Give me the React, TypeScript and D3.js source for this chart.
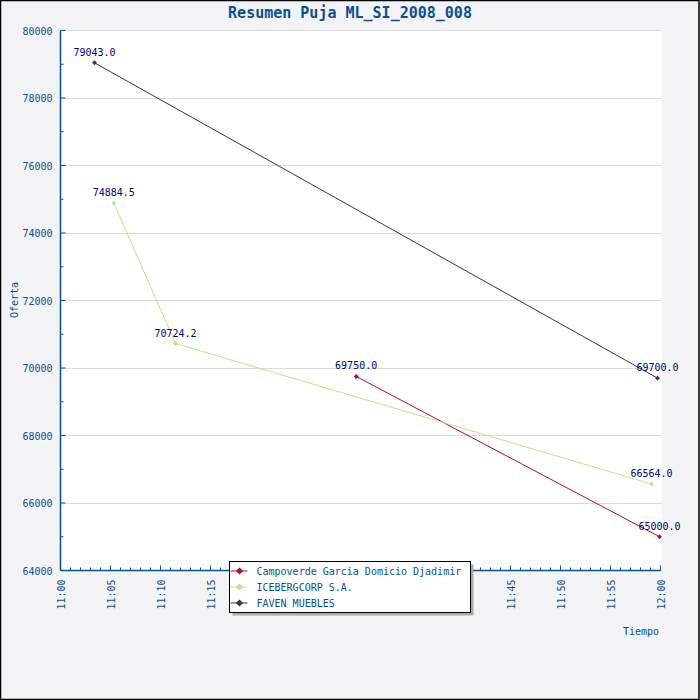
import { useEffect, useRef } from 'react';
import * as d3 from 'd3';

const seriesNames = ['Campoverde Garcia Domicio Djadimir', 'ICEBERGCORP S.A.', 'FAVEN MUEBLES'];
const seriesColors = ['#a80c3e', '#c4e08c', '#2e3848'];

const campoverdeTimes = ['11:29:34', '11:59:54'];
const campoverdeValues = [69750.0, 65000.0];
const icebergTimes = ['11:05:20', '11:11:30', '11:59:06'];
const icebergValues = [74884.5, 70724.2, 66564.0];
const favenTimes = ['11:03:24', '11:59:42'];
const favenValues = [79043.0, 69700.0];

const xTickLabels = ['11:00', '11:05', '11:10', '11:15', '11:20', '11:25', '11:30', '11:35', '11:40', '11:45', '11:50', '11:55', '12:00'];
const yTicks = [64000, 66000, 68000, 70000, 72000, 74000, 76000, 78000, 80000];

const AXIS = '#0a4f94';
const FONT = '"DejaVu Sans Mono", monospace';

const parseTime = d3.timeParse('%H:%M:%S');

export default function App() {
  const svgRef = useRef<SVGSVGElement>(null);

  useEffect(() => {
    if (!svgRef.current) return;
    const width = 700;
    const height = 700;
    const margin = { top: 30.5, left: 60.5 };
    const innerW = 600;
    const innerH = 540;

    const svg = d3.select(svgRef.current);
    svg.selectAll('*').remove();

    svg.append('rect').attr('width', width).attr('height', height).attr('fill', '#f3f3f5');
    svg.append('rect').attr('x', 0.5).attr('y', 0.5).attr('width', width - 1.5).attr('height', height - 1)
      .attr('fill', 'none').attr('stroke', '#000').attr('stroke-width', 1.5);

    const x = d3.scaleTime()
      .domain([parseTime('11:00:00') as Date, parseTime('12:00:00') as Date])
      .range([0, innerW]);
    const y = d3.scaleLinear().domain([64000, 80000]).range([innerH, 0]);

    const g = svg.append('g').attr('transform', `translate(${margin.left},${margin.top})`);

    g.append('rect').attr('x', 0).attr('y', 0).attr('width', innerW + 1).attr('height', innerH).attr('fill', '#fff');

    // grid
    g.selectAll('.grid').data(yTicks).enter().append('line')
      .attr('x1', 0).attr('x2', innerW + 1)
      .attr('y1', (d) => Math.round(y(d))).attr('y2', (d) => Math.round(y(d)))
      .attr('stroke', '#dcdcdc').attr('stroke-width', 1);

    // title
    svg.append('text').attr('x', 350).attr('y', 18).attr('text-anchor', 'middle')
      .style('font-family', FONT).style('font-size', '15px').style('font-weight', 'bold')
      .attr('fill', AXIS).text('Resumen Puja ML_SI_2008_008');

    // series
    const series = [
      { times: campoverdeTimes, values: campoverdeValues },
      { times: icebergTimes, values: icebergValues },
      { times: favenTimes, values: favenValues },
    ];
    const marker = d3.symbol().type(d3.symbolSquare).size(12);
    const line = d3.line<[Date, number]>().x((d) => x(d[0])).y((d) => y(d[1]));

    series.forEach((s, i) => {
      const pts: [Date, number][] = s.times.map((t, j) => [parseTime(t) as Date, s.values[j]]);
      g.append('path').datum(pts).attr('d', line).attr('fill', 'none')
        .attr('stroke', seriesColors[i]).attr('stroke-width', 1);
      g.selectAll(`.m${i}`).data(pts).enter().append('path')
        .attr('d', marker)
        .attr('transform', (d) => `translate(${x(d[0])},${y(d[1])}) rotate(45)`)
        .attr('fill', seriesColors[i]);
      g.selectAll(`.l${i}`).data(pts).enter().append('text')
        .attr('x', (d) => x(d[0])).attr('y', (d) => y(d[1]) - 7)
        .attr('text-anchor', 'middle')
        .style('font-family', FONT).style('font-size', '10px')
        .attr('fill', '#000080').text((d) => d[1].toFixed(1));
    });

    // y axis
    const yAxisG = g.append('g');
    yAxisG.append('line').attr('x1', 0).attr('x2', 0).attr('y1', 0).attr('y2', innerH)
      .attr('stroke', AXIS).attr('stroke-width', 1.5);
    const yMinor = d3.range(64000, 80001, 1000);
    yAxisG.selectAll('.ytick').data(yMinor).enter().append('line')
      .attr('x1', 0).attr('x2', (d) => (d % 2000 === 0 ? 5 : 3))
      .attr('y1', (d) => y(d)).attr('y2', (d) => y(d))
      .attr('stroke', AXIS).attr('stroke-width', 1);
    yAxisG.selectAll('.ylab').data(yTicks).enter().append('text')
      .attr('x', -8).attr('y', (d) => y(d) + 4).attr('text-anchor', 'end')
      .style('font-family', FONT).style('font-size', '10px').attr('fill', AXIS)
      .text((d) => String(d));

    // x axis
    const xAxisG = g.append('g').attr('transform', `translate(0,${innerH})`);
    xAxisG.append('line').attr('x1', 0).attr('x2', innerW).attr('y1', 0).attr('y2', 0)
      .attr('stroke', AXIS).attr('stroke-width', 1.5);
    const minuteTicks = x.ticks(d3.timeMinute.every(1) as d3.TimeInterval);
    xAxisG.selectAll('.xtick').data(minuteTicks).enter().append('line')
      .attr('x1', (d) => x(d)).attr('x2', (d) => x(d))
      .attr('y1', 0).attr('y2', (d) => (d.getMinutes() % 5 === 0 ? -5 : -3))
      .attr('stroke', AXIS).attr('stroke-width', 1);
    const majorTicks = x.ticks(d3.timeMinute.every(5) as d3.TimeInterval);
    xAxisG.selectAll('.xlab').data(majorTicks).enter().append('text')
      .attr('transform', (d) => `translate(${x(d) + 4},9) rotate(-90)`)
      .attr('text-anchor', 'end')
      .style('font-family', FONT).style('font-size', '10px').attr('fill', AXIS)
      .text((_d, i) => xTickLabels[i]);

    // axis titles
    svg.append('text').attr('transform', 'translate(18,300) rotate(-90)').attr('text-anchor', 'middle')
      .style('font-family', FONT).style('font-size', '10px').attr('fill', AXIS).text('Oferta');
    svg.append('text').attr('x', 659).attr('y', 635).attr('text-anchor', 'end')
      .style('font-family', FONT).style('font-size', '10px').attr('fill', AXIS).text('Tiempo');

    // legend
    const lg = svg.append('g').attr('transform', 'translate(229.5,561.5)');
    lg.append('rect').attr('x', 3).attr('y', 3).attr('width', 241).attr('height', 51).attr('fill', '#aaaaaa');
    lg.append('rect').attr('x', 0).attr('y', 0).attr('width', 241).attr('height', 51)
      .attr('fill', '#fff').attr('stroke', '#000').attr('stroke-width', 1);
    seriesNames.forEach((name, i) => {
      const yy = 9.5 + i * 16;
      lg.append('line').attr('x1', 1).attr('x2', 18).attr('y1', yy).attr('y2', yy)
        .attr('stroke', seriesColors[i]).attr('stroke-width', 1);
      lg.append('path').attr('d', d3.symbol().type(d3.symbolSquare).size(26))
        .attr('transform', `translate(10,${yy}) rotate(45)`).attr('fill', seriesColors[i]);
      lg.append('text').attr('x', 27).attr('y', yy + 4)
        .style('font-family', FONT).style('font-size', '10px').attr('fill', AXIS).text(name);
    });
  }, []);

  return (
    <svg
      ref={svgRef}
      width={700}
      height={700}
      style={{ position: 'absolute', left: 0, top: 0, display: 'block' }}
    />
  );
}
